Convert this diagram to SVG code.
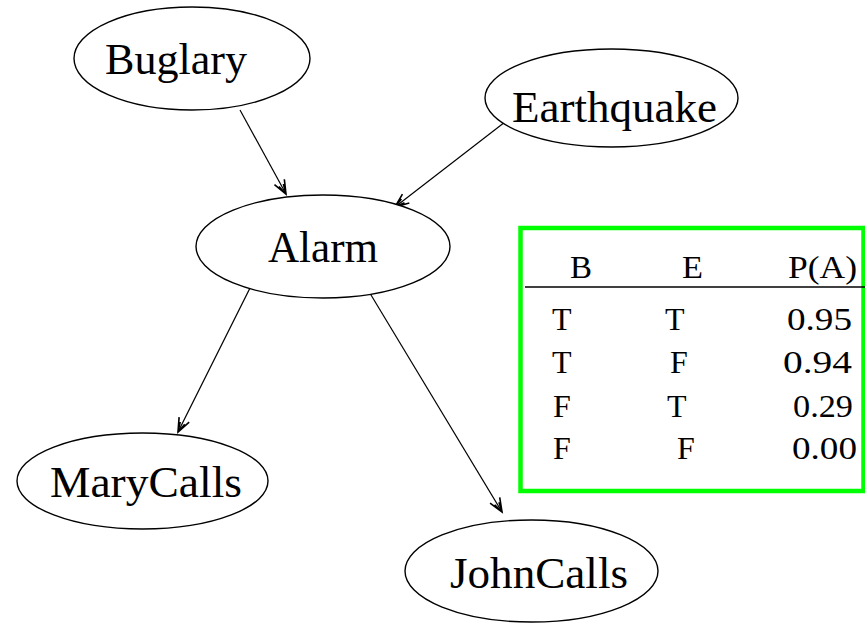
<svg xmlns="http://www.w3.org/2000/svg" width="865" height="623" viewBox="0 0 865 623">
  <style>
    .node ellipse { fill: #fff; stroke: #000; stroke-width: 1.4; }
    .node text { font-family: "Liberation Serif", "Times New Roman", serif; font-size: 44px; fill: #000; }
    .edge { stroke: #000; stroke-width: 1.2; fill: none; marker-end: url(#arrow); }
    .cpt text { font-family: "Liberation Serif", "Times New Roman", serif; font-size: 32px; fill: #000; }
  </style>
  <defs>
    <marker id="arrow" markerUnits="userSpaceOnUse" markerWidth="20" markerHeight="20" refX="0" refY="0" viewBox="-12 -8 14 16" orient="auto">
      <path d="M-11,-4.5 L0,0 L-11,4.5 M-8,-2 L0,0 L-8,2" fill="none" stroke="#000" stroke-width="1.3"/>
    </marker>
  </defs>
  <rect width="865" height="623" fill="#fff"/>

  <g id="edges">
    <line class="edge" x1="240" y1="110" x2="286" y2="194"/>
    <line class="edge" x1="505" y1="122" x2="395" y2="207"/>
    <line class="edge" x1="250" y1="288" x2="178" y2="432"/>
    <line class="edge" x1="368" y1="290" x2="502" y2="512"/>
  </g>

  <g id="buglary" class="node">
    <ellipse cx="192" cy="58.5" rx="118" ry="51.5"/>
    <text x="105" y="74" textLength="142" lengthAdjust="spacingAndGlyphs">Buglary</text>
  </g>
  <g id="earthquake" class="node">
    <ellipse cx="611.5" cy="98" rx="126.5" ry="49"/>
    <text x="512" y="122" textLength="205" lengthAdjust="spacingAndGlyphs">Earthquake</text>
  </g>
  <g id="alarm" class="node">
    <ellipse cx="323" cy="246.5" rx="127" ry="51.5"/>
    <text x="268" y="262" textLength="110" lengthAdjust="spacingAndGlyphs">Alarm</text>
  </g>
  <g id="marycalls" class="node">
    <ellipse cx="142.5" cy="481" rx="125.5" ry="48"/>
    <text x="50" y="497" textLength="192" lengthAdjust="spacingAndGlyphs">MaryCalls</text>
  </g>
  <g id="johncalls" class="node">
    <ellipse cx="531.5" cy="571" rx="126.5" ry="51"/>
    <text x="450" y="588" textLength="178" lengthAdjust="spacingAndGlyphs">JohnCalls</text>
  </g>

  <!-- conditional probability table for Alarm -->
  <g id="cpt" class="cpt">
    <rect x="520.5" y="228" width="343" height="263" fill="none" stroke="#00ff00" stroke-width="4.5"/>
    <line x1="525" y1="287" x2="865" y2="287" stroke="#000" stroke-width="1.5"/>
    <text x="570" y="278" textLength="22" lengthAdjust="spacingAndGlyphs">B</text>
    <text x="682" y="278" textLength="21" lengthAdjust="spacingAndGlyphs">E</text>
    <text x="788" y="278" textLength="69" lengthAdjust="spacingAndGlyphs">P(A)</text>

    <text x="552" y="330">T</text>
    <text x="665" y="330">T</text>
    <text x="787" y="330" textLength="65" lengthAdjust="spacingAndGlyphs">0.95</text>

    <text x="552" y="373">T</text>
    <text x="670" y="373">F</text>
    <text x="783" y="373" textLength="69" lengthAdjust="spacingAndGlyphs">0.94</text>

    <text x="553" y="417">F</text>
    <text x="667" y="417">T</text>
    <text x="793" y="417" textLength="60" lengthAdjust="spacingAndGlyphs">0.29</text>

    <text x="553" y="459">F</text>
    <text x="677" y="459">F</text>
    <text x="792" y="459" textLength="65" lengthAdjust="spacingAndGlyphs">0.00</text>
  </g>
</svg>
